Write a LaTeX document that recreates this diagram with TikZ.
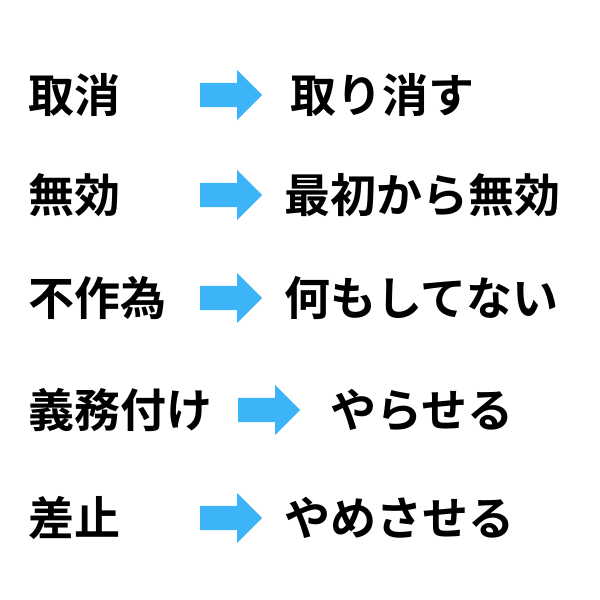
\documentclass[tikz,border=0pt]{standalone}
\usepackage{fontspec}
\setmainfont{Noto Sans CJK JP}[BoldFont={* Bold}]
\usetikzlibrary{shapes.arrows}
\definecolor{arrowblue}{HTML}{3DB4F8}
\tikzset{
  lbl/.style={anchor=west,inner sep=0pt,font=\fontsize{46}{54}\selectfont\bfseries},
  blk/.style={single arrow,draw=none,fill=arrowblue,minimum height=62pt,minimum width=50pt,
    inner xsep=0pt,inner ysep=12pt,single arrow head extend=13pt,single arrow head indent=0pt,anchor=west}
}
\begin{document}
\begin{tikzpicture}[x=1pt,y=-1pt]
\useasboundingbox[fill=white] (0,0) rectangle (600,600);
\node[lbl] (l1) at (28,95) {取消};
\node[blk] (a1) at (200,95) {};
\node[lbl] (r1) at (290,95) {取り消す};
\node[lbl] (l2) at (28,195) {無効};
\node[blk] (a2) at (200,195) {};
\node[lbl] (r2) at (284,195) {最初から無効};
\node[lbl] (l3) at (28,298) {不作為};
\node[blk] (a3) at (200,298) {};
\node[lbl] (r3) at (284,298) {何もしてない};
\node[lbl] (l4) at (28,410) {義務付け};
\node[blk] (a4) at (238,410) {};
\node[lbl] (r4) at (330,410) {やらせる};
\node[lbl] (l5) at (28,518) {差止};
\node[blk] (a5) at (200,518) {};
\node[lbl] (r5) at (284,518) {やめさせる};
\end{tikzpicture}
\end{document}
